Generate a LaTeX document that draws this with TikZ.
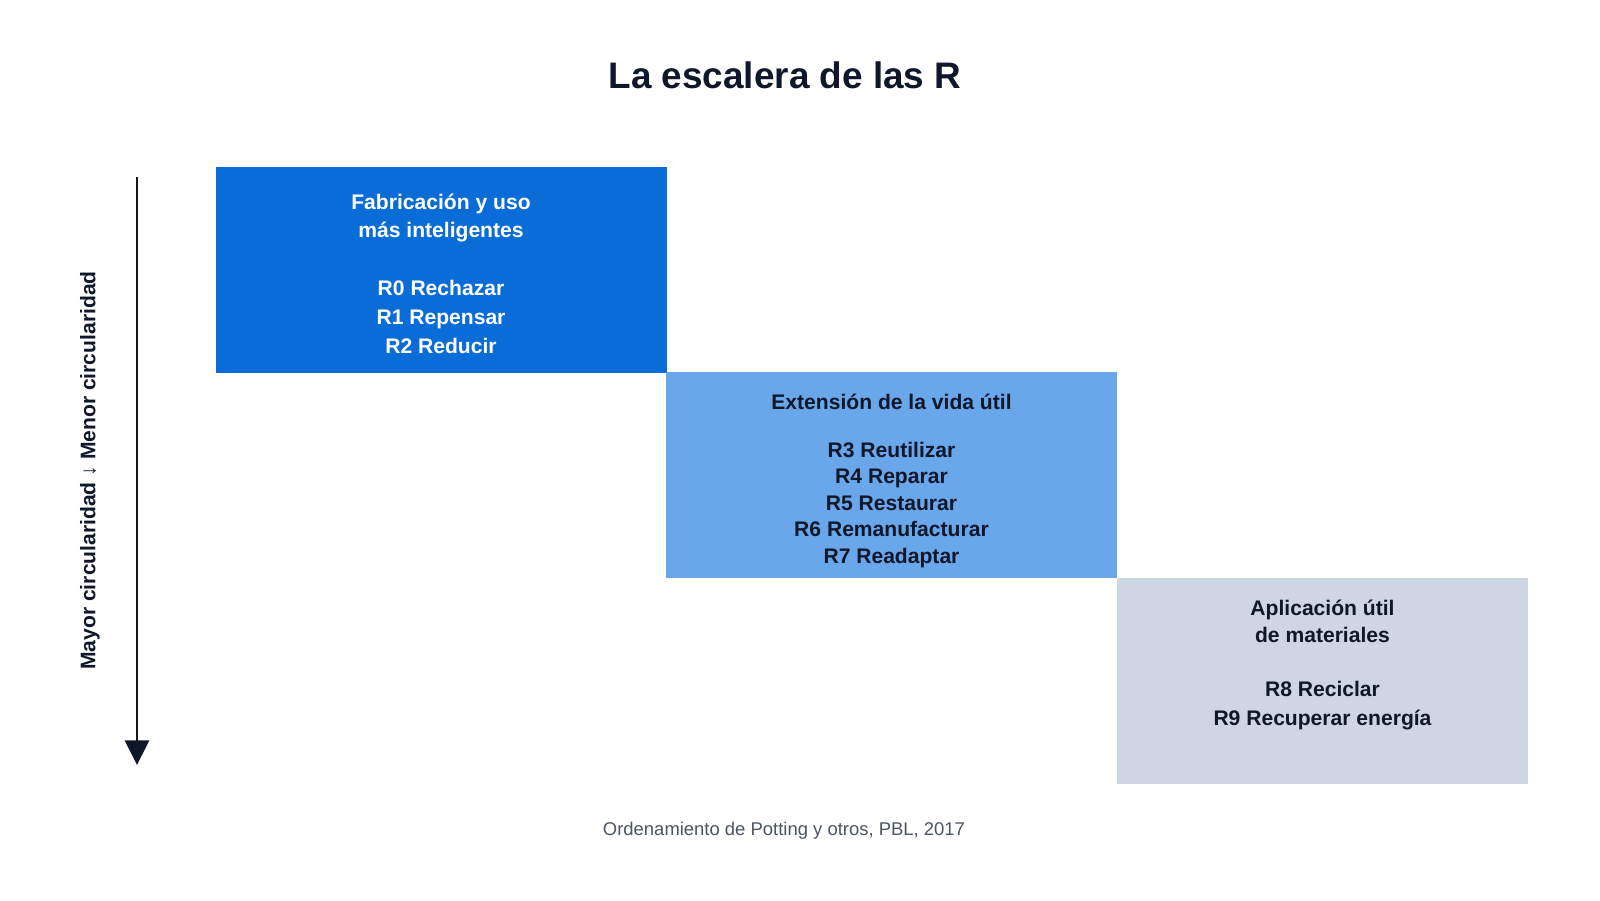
\documentclass[tikz,border=0pt]{standalone}
\usepackage{fontspec}
\setmainfont{Liberation Sans}
\usetikzlibrary{arrows.meta}
\definecolor{ink}{HTML}{0F172A}
\definecolor{note}{HTML}{4B5563}
\definecolor{stepone}{HTML}{0A6CD6}
\definecolor{steptwo}{HTML}{6AA6EA}
\definecolor{stepthree}{HTML}{CDD6E2}
\tikzset{
  stair/.style={rectangle, inner sep=0pt, minimum width=9.02cm, minimum height=4.12cm},
  head/.style={align=center, font=\bfseries\fontsize{12}{15.4}\selectfont},
  rlist/.style={align=center, font=\bfseries\fontsize{12}{16.5}\selectfont}
}
\begin{document}
\begin{tikzpicture}
                \useasboundingbox (0,0) rectangle (32,-18);
                \node[font=\bfseries\fontsize{21}{25}\selectfont, text=ink] (title) at (15.7,-1.5) {La escalera de las R};

                \node[stair, fill=stepone] (b1) at (8.82,-5.39) {};
                \node[stair, fill=steptwo] (b2) at (17.83,-9.5) {};
                \node[stair, fill=stepthree, minimum width=8.22cm] (b3) at (26.45,-13.61) {};

                \node[head, text=white] (h1) at (8.82,-4.36) {Fabricación y uso\\más inteligentes};
                \node[rlist, text=white] (r1) at (8.82,-6.34) {R0 Rechazar\\R1 Repensar\\R2 Reducir};
                \node[head, text=ink] (h2) at (17.83,-8.04) {Extensión de la vida útil};
                \node[rlist, text=ink, font=\bfseries\fontsize{12}{15.1}\selectfont] (r2) at (17.83,-10.1) {R3 Reutilizar\\R4 Reparar\\R5 Restaurar\\R6 Remanufacturar\\R7 Readaptar};
                \node[head, text=ink] (h3) at (26.45,-12.42) {Aplicación útil\\de materiales};
                \node[rlist, text=ink] (r3) at (26.45,-14.12) {R8 Reciclar\\R9 Recuperar energía};

                \coordinate (top) at (2.74,-3.54);
                \coordinate (bot) at (2.74,-15.3);
                \draw[ink, line width=1.7pt, -{Triangle[width=13.6pt,length=14pt]}] (top) -- (bot);
                \node[rotate=90, font=\bfseries\fontsize{12}{14}\selectfont, text=ink] (axis) at (1.8,-9.41) {Mayor circularidad {\mdseries ↓} Menor circularidad};

                \node[font=\fontsize{10.5}{12}\selectfont, text=note] (source) at (15.68,-16.62) {Ordenamiento de Potting y otros, PBL, 2017};
            \end{tikzpicture}
\end{document}
